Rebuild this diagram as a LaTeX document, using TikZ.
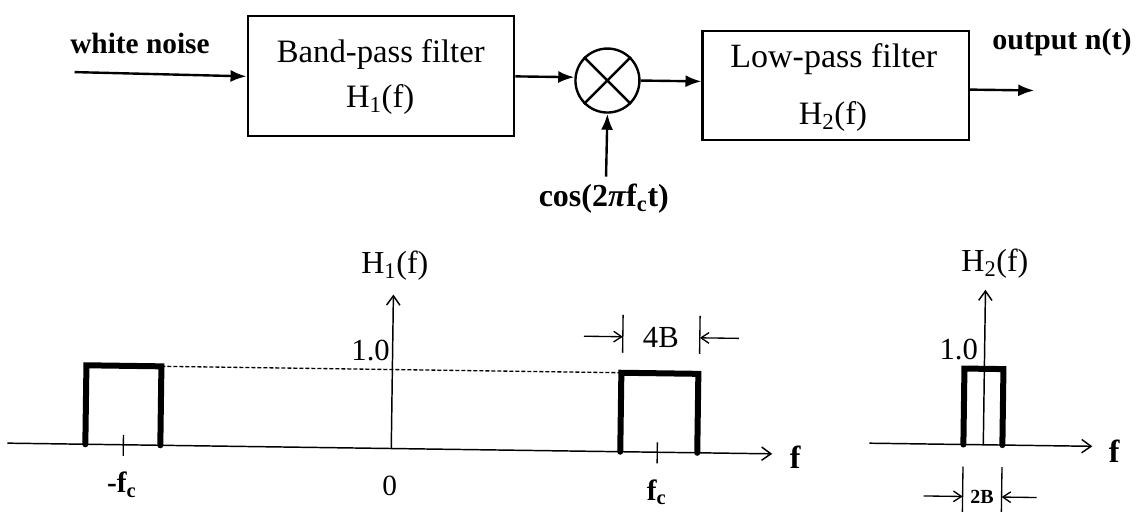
\documentclass[tikz,border=0pt]{standalone}
\usepackage{fontspec}
\setmainfont{Liberation Serif}
\usetikzlibrary{arrows.meta}
\begin{document}
\begin{tikzpicture}[x=0.75pt,y=-0.75pt,
  lbl/.style={font=\fontsize{22}{26}\selectfont, inner sep=0pt},
  boxlbl/.style={font=\fontsize{24.5}{28}\selectfont, inner sep=0pt},
  blbl/.style={font=\fontsize{22}{26}\selectfont\bfseries, inner sep=0pt},
  slbl/.style={font=\fontsize{15}{18}\selectfont\bfseries, inner sep=0pt},
  box/.style={draw, line width=1.6pt, inner sep=0pt},
  sig/.style={line width=1.8pt, -{Latex[length=12pt,width=9pt]}},
  axis/.style={line width=1.1pt, -{Straight Barb[length=7pt,width=10pt,line width=1.1pt]}},
  pulse/.style={line width=4.5pt, line cap=round},
  dim/.style={line width=1pt, -{Straight Barb[length=6pt,width=8pt,line width=1pt]}},
  thinline/.style={line width=1pt}]
\fill[white] (0,0) rectangle (1137,511);
\useasboundingbox (0,0) rectangle (1137,511);
\begin{scope}[rotate around={-0.8:(568,255)}]
% ---- block diagram ----
\node[box, minimum width=200pt, minimum height=90pt] (bp) at (378.5,79) {};
\node[boxlbl] (bpt) at (378,57) {Band-pass filter};
\node[boxlbl] (bph) at (378,102) {H\textsubscript{1}(f)};
\node[draw, circle, line width=1.8pt, minimum size=48pt, inner sep=0pt] (mx) at (605,80) {};
\draw[line width=1.8pt] (mx.north west) -- (mx.south east) (mx.north east) -- (mx.south west);
\node[box, minimum width=200pt, minimum height=82pt] (lp) at (833.5,82) {};
\node[font=\fontsize{25.5}{28}\selectfont, inner sep=0pt] (lpt) at (831,55) {Low-pass filter};
\node[boxlbl] (lph) at (831,113) {H\textsubscript{2}(f)};
\coordinate (in) at (72,79);
\node[blbl] (wn) at (137,49) {white noise};
\draw[sig] (in) -- (bp.west);
\draw[sig] (bp.east) -- (bp.east -| mx.west);
\draw[sig] (mx.east) -- (mx.east -| lp.west);
\coordinate (out) at (1032,84);
\draw[sig] (lp.east |- out) -- (out);
\node[font=\fontsize{22.5}{26}\selectfont\bfseries, inner sep=0pt] (on) at (1059,35) {output n(t)};
\node[font=\fontsize{24}{26}\selectfont\bfseries, inner sep=0pt] (cos) at (603,198) {cos(2\textit{π}f\textsubscript{c}t)};
\coordinate (cb) at (605,176);
\draw[sig] (cb) -- (mx.south);
% ---- H1 plot ----
\coordinate (a1s) at (10,451);
\coordinate (a1e) at (775,451);
\coordinate (o1) at (394,451);
\coordinate (v1) at (394,297);
\draw[axis] (a1s) -- (a1e);
\draw[axis] (o1) -- (v1);
\node[font=\fontsize{24}{26}\selectfont, inner sep=0pt] (h1) at (395,268) {H\textsubscript{1}(f)};
\node[font=\fontsize{23}{26}\selectfont, inner sep=0pt] (one1) at (372,353) {1.0};
\coordinate (d1) at (163,372);
\coordinate (d2) at (623,372);
\draw[line width=1pt, dash pattern=on 3pt off 1.5pt] (d1) -- (d2);
\draw[pulse] (88,451) -- (88,372) -- (163,372) -- (163,451);
\draw[pulse] (623,451) -- (623,372) -- (700,372) -- (700,451);
\draw[thinline] (126,441) -- (126,462);
\draw[thinline] (660,441) -- (660,462);
\node[blbl] (mfc) at (125,491) {-f\textsubscript{c}};
\node[lbl] (zero) at (393,488) {0};
\node[blbl] (fc) at (660,491) {f\textsubscript{c}};
\node[font=\fontsize{24}{26}\selectfont\bfseries, inner sep=0pt] (f1) at (798,454) {f};
% 4B
\coordinate (t1a) at (624,314); \coordinate (t1b) at (624,352);
\coordinate (t2a) at (701,314); \coordinate (t2b) at (701,352);
\draw[thinline] (t1a) -- (t1b);
\draw[thinline] (t2a) -- (t2b);
\coordinate (b4l) at (585,336); \coordinate (b4r) at (740,336);
\draw[dim] (b4l) -- (t1a |- b4l);
\draw[dim] (b4r) -- (t2a |- b4r);
\node[font=\fontsize{23}{26}\selectfont, inner sep=0pt] (fourB) at (662,336) {4B};
% ---- H2 plot ----
\coordinate (a2s) at (872,439);
\coordinate (a2e) at (1095,439);
\coordinate (o2) at (986,439);
\coordinate (v2) at (986,284);
\draw[axis] (a2s) -- (a2e);
\draw[axis] (o2) -- (v2);
\node[font=\fontsize{24}{26}\selectfont, inner sep=0pt] (h2) at (995,258) {H\textsubscript{2}(f)};
\node[font=\fontsize{23}{26}\selectfont, inner sep=0pt] (one2) at (960,344) {1.0};
\draw[pulse] (966,439) -- (966,363) -- (1005,363) -- (1005,439);
\node[font=\fontsize{24}{26}\selectfont\bfseries, inner sep=0pt] (f2) at (1117,444) {f};
\coordinate (t3a) at (966,461); \coordinate (t3b) at (966,520);
\coordinate (t4a) at (1005,461); \coordinate (t4b) at (1005,520);
\draw[thinline] (t3a) -- (t3b);
\draw[thinline] (t4a) -- (t4b);
\coordinate (b2l) at (927,491); \coordinate (b2r) at (1040,491);
\draw[dim] (b2l) -- (t3a |- b2l);
\draw[dim] (b2r) -- (t4a |- b2r);
\node[slbl] (twoB) at (985.5,491) {2B};
\end{scope}
\end{tikzpicture}
\end{document}
